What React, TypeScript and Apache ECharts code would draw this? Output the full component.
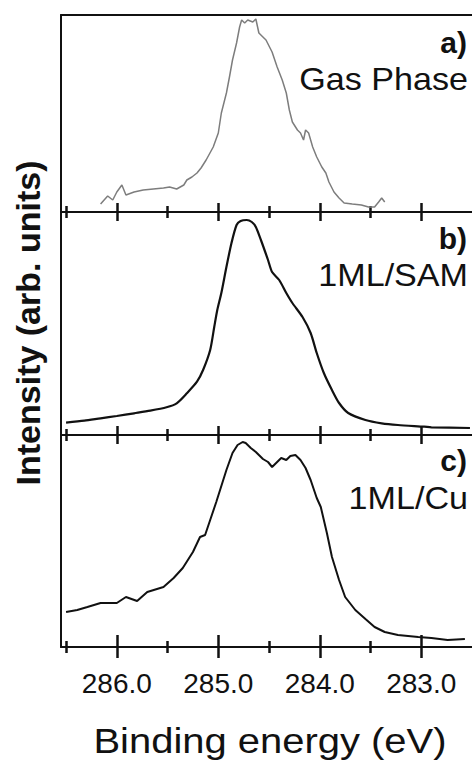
import { useEffect, useRef } from "react";
import * as echarts from "echarts";

// Tick values (binding energy, eV)
const majorTicks = [286.0, 285.0, 284.0, 283.0];
const minorTicks = [286.5, 285.5, 284.5, 283.5];

// a) Gas phase
const gasEnergy = [286.16, 286.09, 286.04, 286.0, 285.95, 285.91, 285.83, 285.74, 285.64, 285.54, 285.48, 285.41, 285.34, 285.31, 285.26, 285.21, 285.17, 285.12, 285.05, 285.0, 284.97, 284.92, 284.89, 284.86, 284.82, 284.79, 284.77, 284.74, 284.71, 284.66, 284.63, 284.6, 284.53, 284.47, 284.42, 284.37, 284.33, 284.3, 284.27, 284.22, 284.19, 284.16, 284.14, 284.11, 284.07, 284.03, 283.98, 283.94, 283.91, 283.86, 283.81, 283.76, 283.68, 283.59, 283.52, 283.46, 283.42, 283.39, 283.36];
const gasIntensity = [8, 16, 12, 20, 27, 17, 20, 22, 23, 24, 25, 23, 27, 32, 35, 39, 44, 52, 65, 79, 99, 119, 135, 152, 169, 185, 192, 189, 192, 190, 193, 179, 172, 160, 145, 132, 119, 102, 90, 82, 79, 72, 82, 79, 65, 55, 45, 39, 30, 20, 14, 9, 8, 7, 5, 5, 10, 14, 10];

// b) 1ML/SAM
const samEnergy = [286.5, 286.32, 286.16, 286.0, 285.83, 285.67, 285.51, 285.41, 285.31, 285.21, 285.15, 285.08, 285.04, 285.01, 284.97, 284.92, 284.87, 284.82, 284.78, 284.72, 284.67, 284.63, 284.58, 284.51, 284.47, 284.4, 284.33, 284.27, 284.17, 284.09, 284.03, 283.96, 283.88, 283.81, 283.72, 283.55, 283.39, 283.23, 282.97, 282.9, 282.52];
const samIntensity = [12.3, 14.3, 16.7, 19, 21.7, 24.3, 27.7, 31.7, 41.7, 53.3, 65, 85, 108, 125, 142, 168, 192, 210, 214, 215, 213, 208, 195, 175, 163, 155, 142, 132, 118, 102, 82, 62, 45, 32, 22, 15, 11.7, 10, 8.3, 7.7, 7];

// c) 1ML/Cu
const cuEnergy = [286.5, 286.39, 286.29, 286.16, 286.0, 285.91, 285.8, 285.7, 285.54, 285.44, 285.35, 285.25, 285.18, 285.13, 285.08, 285.02, 284.92, 284.86, 284.81, 284.76, 284.73, 284.68, 284.63, 284.6, 284.56, 284.51, 284.47, 284.42, 284.38, 284.33, 284.29, 284.24, 284.19, 284.14, 284.09, 284.03, 283.99, 283.93, 283.88, 283.81, 283.75, 283.65, 283.55, 283.46, 283.36, 283.23, 283.03, 282.9, 282.74, 282.57];
const cuIntensity = [35, 37, 40, 44, 44, 50, 46, 55, 60, 69, 79, 95, 110, 112, 127, 145, 177, 194, 202, 205, 204, 199, 195, 192, 188, 185, 180, 185, 189, 187, 191, 192, 187, 179, 167, 149, 140, 114, 90, 67, 50, 37, 28, 20, 15, 12, 10, 9, 7, 8];

const panelLetters = ["a)", "b)", "c)"];
const panelNames = ["Gas Phase", "1ML/SAM", "1ML/Cu"];
const xTitle = "Binding energy (eV)";
const yTitle = "Intensity (arb. units)";

const X_MIN = 282.5;
const X_MAX = 286.55;
const FONT = "'Liberation Sans', Arial, Helvetica, sans-serif";
const INK = "#111111";

const panels = [
  { top: 15, height: 197, yMax: 197, e: gasEnergy, v: gasIntensity, color: "#7d7d7d", width: 1.5, smooth: false, letterY: 42, nameY: 80 },
  { top: 212, height: 223, yMax: 223, e: samEnergy, v: samIntensity, color: INK, width: 2.2, smooth: 0.25, letterY: 238, nameY: 276 },
  { top: 435, height: 212, yMax: 212, e: cuEnergy, v: cuIntensity, color: INK, width: 2, smooth: false, letterY: 460, nameY: 499 },
];

export default function App() {
  const ref = useRef<HTMLDivElement>(null);
  useEffect(() => {
    if (!ref.current) return;
    const chart = echarts.init(ref.current, undefined, { renderer: "svg" });

    const grid: any[] = [];
    const xAxis: any[] = [];
    const yAxis: any[] = [];
    const series: any[] = [];
    const graphic: any[] = [];

    const baseX = (g: number, extra: any) => ({
      type: "value",
      gridIndex: g,
      min: X_MIN,
      max: X_MAX,
      inverse: true,
      position: "bottom",
      splitLine: { show: false },
      axisLabel: { show: false },
      axisLine: { show: false },
      axisTick: { show: false },
      ...extra,
    });

    panels.forEach((p, g) => {
      const last = g === panels.length - 1;
      grid.push({ left: 61, top: p.top, width: 414, height: p.height, containLabel: false });
      const mainIndex = xAxis.length;
      xAxis.push(
        baseX(g, {
          axisLine: { show: true, onZero: false, lineStyle: { color: INK, width: 2 } },
          axisTick: { show: true, customValues: majorTicks, length: last ? 11 : 9, lineStyle: { color: INK, width: 2.5 } },
          axisLabel: last
            ? {
                show: true,
                customValues: majorTicks,
                formatter: (val: number) => val.toFixed(1),
                fontSize: 28,
                fontFamily: FONT,
                color: INK,
                margin: 22,
              }
            : { show: false },
        })
      );
      xAxis.push(
        baseX(g, {
          axisTick: { show: true, inside: true, customValues: majorTicks, length: last ? 12 : 9, lineStyle: { color: INK, width: 2.5 } },
        })
      );
      xAxis.push(
        baseX(g, {
          axisTick: { show: true, customValues: minorTicks, length: 6, lineStyle: { color: INK, width: 2.5 } },
        })
      );
      xAxis.push(
        baseX(g, {
          axisTick: { show: true, inside: true, customValues: minorTicks, length: 6, lineStyle: { color: INK, width: 2.5 } },
        })
      );
      if (g === 0) {
        xAxis.push(
          baseX(g, {
            position: "top",
            axisLine: { show: true, onZero: false, lineStyle: { color: INK, width: 2 } },
          })
        );
      }
      yAxis.push({
        type: "value",
        gridIndex: g,
        min: 0,
        max: p.yMax,
        axisLine: { show: true, onZero: false, lineStyle: { color: INK, width: 2 } },
        axisTick: { show: false },
        axisLabel: { show: false },
        splitLine: { show: false },
      });
      series.push({
        type: "line",
        name: panelNames[g],
        xAxisIndex: mainIndex,
        yAxisIndex: g,
        data: p.e.map((e, i) => [e, p.v[i]]),
        showSymbol: false,
        symbol: "none",
        smooth: p.smooth,
        lineStyle: { color: p.color, width: p.width },
        z: 1,
      });
      graphic.push({
        type: "text",
        x: 467,
        y: p.letterY,
        style: {
          text: panelLetters[g],
          font: `bold 30px ${FONT}`,
          fill: INK,
          textAlign: "right",
          textVerticalAlign: "middle",
          align: "right",
          verticalAlign: "middle",
        },
      });
      graphic.push({
        type: "text",
        x: 468,
        y: p.nameY,
        scaleX: 1.1,
        style: {
          text: panelNames[g],
          font: `31px ${FONT}`,
          fill: INK,
          textAlign: "right",
          textVerticalAlign: "middle",
          align: "right",
          verticalAlign: "middle",
        },
      });
    });

    graphic.push({
      type: "text",
      x: 28,
      y: 323,
      rotation: Math.PI / 2,
      style: {
        text: yTitle,
        font: `bold 34px ${FONT}`,
        fill: INK,
        textAlign: "center",
        textVerticalAlign: "middle",
        align: "center",
        verticalAlign: "middle",
      },
    });
    graphic.push({
      type: "text",
      x: 270,
      y: 741,
      scaleX: 1.11,
      style: {
        text: xTitle,
        font: `36px ${FONT}`,
        fill: INK,
        textAlign: "center",
        textVerticalAlign: "middle",
        align: "center",
        verticalAlign: "middle",
      },
    });

    chart.setOption({
      animation: false,
      backgroundColor: "#ffffff",
      grid,
      xAxis,
      yAxis,
      series,
      graphic,
    });
    return () => chart.dispose();
  }, []);
  return <div ref={ref} style={{ position: "absolute", left: 0, top: 0, width: 472, height: 762 }} />;
}
